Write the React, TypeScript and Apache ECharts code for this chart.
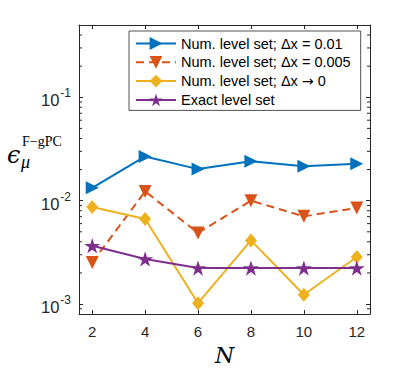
import React, { useEffect, useRef } from "react";
import * as echarts from "echarts";

// ---- data ----
const N = [2, 4, 6, 8, 10, 12];
const seriesNames = [
  "Num. level set; Δx = 0.01",
  "Num. level set; Δx = 0.005",
  "Num. level set; Δx → 0",
  "Exact level set",
];
const numDx001 = [0.0133, 0.0268, 0.0202, 0.024, 0.0215, 0.0228];
const numDx0005 = [0.00253, 0.0123, 0.00487, 0.01, 0.00705, 0.0085];
const numDx0 = [0.00869, 0.00665, 0.00102, 0.00413, 0.00123, 0.00285];
const exactLS = [0.00367, 0.00273, 0.00223, 0.00223, 0.00223, 0.00223];
const xTickLabels = ["2", "4", "6", "8", "10", "12"];
const yMinorTicks = [
  0.0009, 0.002, 0.003, 0.004, 0.005, 0.006, 0.007, 0.008, 0.009, 0.02, 0.03,
  0.04, 0.05, 0.06, 0.07, 0.08, 0.09, 0.2, 0.3, 0.4,
];

const X_MIN = 1.5;
const X_MAX = 12.5;
const Y_MIN = 0.0008;
const Y_MAX = 0.5;

const COLORS = ["#0072BD", "#D95319", "#EDB120", "#7E2F8E"];
const AXIS_COLOR = "#262626";
const STAR =
  "path://M50 0 L61.23 34.55 L97.55 34.55 L68.17 55.9 L79.39 90.45 L50 69.1 L20.61 90.45 L31.83 55.9 L2.45 34.55 L38.77 34.55 Z";

const SANS = '"Liberation Sans", Arial, Helvetica, sans-serif';
const SERIF = '"DejaVu Serif", "Liberation Serif", serif';

function pairs(ys: number[]) {
  return N.map((n, i) => [n, ys[i]]);
}

export default function App() {
  const ref = useRef<HTMLDivElement>(null);
  useEffect(() => {
    if (!ref.current) return;
    const chart = echarts.init(ref.current, undefined, { renderer: "svg" });
    const lineBase = {
      type: "line" as const,
      xAxisIndex: 0,
      yAxisIndex: 0,
      showAllSymbol: true,
      z: 3,
    };
    const option: any = {
      animation: false,
      backgroundColor: "#ffffff",
      grid: { left: 79, right: 29, top: 25, bottom: 56, containLabel: false },
      legend: {
        data: seriesNames,
        orient: "vertical",
        left: 129,
        top: 31,
        width: 234,
        itemWidth: 40,
        itemHeight: 16,
        itemGap: 3.8,
        padding: [5, 10, 3, 6],
        backgroundColor: "#ffffff",
        borderColor: AXIS_COLOR,
        borderWidth: 0.8,
        formatter: (name: string) => name.replace("→", "{a|→}"),
        textStyle: {
          fontFamily: SANS,
          fontSize: 14.5,
          color: "#000000",
          rich: {
            a: { fontFamily: '"DejaVu Sans", sans-serif', fontSize: 14, color: "#000000" },
          },
        },
        selectedMode: false,
      },
      xAxis: [
        {
          type: "value",
          min: X_MIN,
          max: X_MAX,
          position: "bottom",
          name: "N",
          nameLocation: "middle",
          nameGap: 28,
          nameTextStyle: {
            fontFamily: SERIF,
            fontStyle: "italic",
            fontSize: 22,
            color: "#000",
          },
          axisLine: { show: true, lineStyle: { color: AXIS_COLOR, width: 1 } },
          axisTick: { show: true, inside: true, length: 4, lineStyle: { color: AXIS_COLOR } },
          axisLabel: {
            show: true,
            showMinLabel: false,
            showMaxLabel: false,
            margin: 10,
            fontFamily: SANS,
            fontSize: 15,
            color: AXIS_COLOR,
            formatter: (v: number) => {
              const idx = N.indexOf(Math.round(v));
              return idx >= 0 && Math.abs(v - N[idx]) < 1e-6 ? xTickLabels[idx] : "";
            },
          },
          splitLine: { show: false },
        },
        {
          type: "value",
          min: X_MIN,
          max: X_MAX,
          position: "top",
          axisLine: { show: true, lineStyle: { color: AXIS_COLOR, width: 1 } },
          axisTick: { show: true, inside: true, length: 4, lineStyle: { color: AXIS_COLOR } },
          axisLabel: { show: false },
          splitLine: { show: false },
        },
      ],
      yAxis: [
        {
          type: "log",
          logBase: 10,
          min: Y_MIN,
          max: Y_MAX,
          position: "left",
          axisLine: { show: true, lineStyle: { color: AXIS_COLOR, width: 1 } },
          axisTick: { show: true, inside: true, length: 4, lineStyle: { color: AXIS_COLOR } },
          axisLabel: {
            show: true,
            showMinLabel: false,
            showMaxLabel: false,
            margin: 8,
            color: AXIS_COLOR,
            formatter: (v: number) => {
              const e = Math.log10(v);
              if (Math.abs(e - Math.round(e)) > 1e-6) return "";
              return "{b|10}{s|" + Math.round(e) + "}";
            },
            rich: {
              b: { fontFamily: SANS, fontSize: 16.5, color: AXIS_COLOR, padding: [6, 0, 0, 0] },
              s: { fontFamily: SANS, fontSize: 12, color: AXIS_COLOR, padding: [1, 0, 9, 1] },
            },
          },
          splitLine: { show: false },
        },
        {
          type: "log",
          logBase: 10,
          min: Y_MIN,
          max: Y_MAX,
          position: "right",
          axisLine: { show: true, lineStyle: { color: AXIS_COLOR, width: 1 } },
          axisTick: { show: true, inside: true, length: 4, lineStyle: { color: AXIS_COLOR } },
          axisLabel: { show: false },
          splitLine: { show: false },
        },
      ],
      graphic: [
        {
          type: "text",
          x: 7,
          y: 155,
          style: {
            text: "ϵ",
            fontFamily: SERIF,
            fontStyle: "italic",
            fontSize: 24,
            fill: "#000",
            align: "left",
            verticalAlign: "middle",
          },
        },
        {
          type: "text",
          x: 22,
          y: 141,
          style: {
            text: "F−gPC",
            fontFamily: '"Liberation Serif", serif',
            fontSize: 14,
            fill: "#000",
            align: "left",
            verticalAlign: "middle",
          },
        },
        {
          type: "text",
          x: 21,
          y: 162,
          style: {
            text: "μ",
            fontFamily: '"Liberation Serif", serif',
            fontStyle: "italic",
            fontSize: 18,
            fill: "#000",
            align: "left",
            verticalAlign: "middle",
          },
        },
      ],
      series: [
        {
          type: "custom",
          xAxisIndex: 0,
          yAxisIndex: 0,
          silent: true,
          clip: false,
          z: 1,
          data: yMinorTicks.map((v) => [X_MIN, v]),
          renderItem: (params: any, api: any) => {
            const v = api.value(1);
            const l = api.coord([X_MIN, v]);
            const r = api.coord([X_MAX, v]);
            return {
              type: "group",
              children: [
                {
                  type: "line",
                  shape: { x1: l[0], y1: l[1], x2: l[0] + 3, y2: l[1] },
                  style: { stroke: AXIS_COLOR, lineWidth: 1 },
                },
                {
                  type: "line",
                  shape: { x1: r[0] - 3, y1: r[1], x2: r[0], y2: r[1] },
                  style: { stroke: AXIS_COLOR, lineWidth: 1 },
                },
              ],
            };
          },
        },
        {
          ...lineBase,
          name: seriesNames[0],
          data: pairs(numDx001),
          symbol: "triangle",
          symbolRotate: -90,
          symbolSize: 13,
          lineStyle: { color: COLORS[0], width: 2 },
          itemStyle: { color: COLORS[0] },
        },
        {
          ...lineBase,
          name: seriesNames[1],
          data: pairs(numDx0005),
          symbol: "triangle",
          symbolRotate: 180,
          symbolSize: 13,
          lineStyle: { color: COLORS[1], width: 2, type: [8, 5] },
          itemStyle: { color: COLORS[1] },
        },
        {
          ...lineBase,
          name: seriesNames[2],
          data: pairs(numDx0),
          symbol: "diamond",
          symbolSize: [12, 14],
          lineStyle: { color: COLORS[2], width: 2 },
          itemStyle: { color: COLORS[2] },
        },
        {
          ...lineBase,
          name: seriesNames[3],
          data: pairs(exactLS),
          symbol: STAR,
          symbolKeepAspect: true,
          symbolSize: 16,
          lineStyle: { color: COLORS[3], width: 2 },
          itemStyle: { color: COLORS[3] },
        },
      ],
    };
    chart.setOption(option);
    return () => chart.dispose();
  }, []);
  return (
    <div
      ref={ref}
      style={{ position: "absolute", left: 0, top: 0, width: 399, height: 371 }}
    />
  );
}
